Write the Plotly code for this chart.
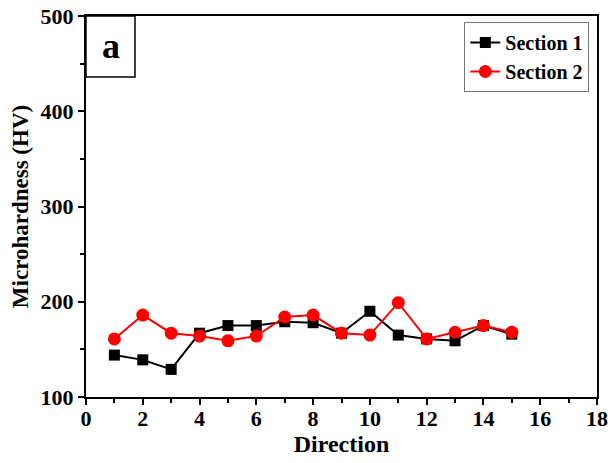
import plotly.graph_objects as go

direction = list(range(1, 16))
section1 = [144, 139, 129, 167, 175, 175, 179, 178, 167, 190, 165, 161, 159, 175, 166]
section2 = [161, 186, 167, 164, 159, 164, 184, 186, 167, 165, 199, 161, 168, 175, 168]

font_family = "Liberation Serif"

fig = go.Figure()
fig.add_trace(go.Scatter(
    x=direction, y=section1, mode="lines+markers", name="<b>Section 1</b>",
    line=dict(color="black", width=2),
    marker=dict(symbol="square", size=11, color="black"),
))
fig.add_trace(go.Scatter(
    x=direction, y=section2, mode="lines+markers", name="<b>Section 2</b>",
    line=dict(color="#ff0000", width=2),
    marker=dict(symbol="circle", size=13, color="#ff0000"),
))

axis_common = dict(
    showline=True, linecolor="black", linewidth=2, mirror=True,
    ticks="outside", tickcolor="black", tickwidth=2, ticklen=6,
    showgrid=False, zeroline=False, automargin=False,
    tickfont=dict(family=font_family, size=22, color="black", weight="bold"),
)

fig.update_xaxes(
    range=[0, 18], tickmode="array", tickvals=list(range(0, 19, 2)),
    minor=dict(tickmode="array", tickvals=list(range(1, 18, 2)), ticks="outside",
               ticklen=4, tickcolor="black", tickwidth=2),
    ticklabelstandoff=-5,
    title=dict(text="<b>Direction</b>", font=dict(family=font_family, size=24, color="black"), standoff=0),
    **axis_common,
)
fig.update_yaxes(
    range=[100, 500], tickmode="array", tickvals=[100, 200, 300, 400, 500],
    minor=dict(tickmode="array", tickvals=[150, 250, 350, 450], ticks="outside",
               ticklen=4, tickcolor="black", tickwidth=2),
    title=dict(text="<b>Microhardness (HV)</b>", font=dict(family=font_family, size=23, color="black"), standoff=6),
    **axis_common,
)

fig.add_shape(type="rect", xref="paper", yref="paper",
              x0=0, x1=49/511, y0=1 - 61/381, y1=1,
              line=dict(color="black", width=1.5), fillcolor="white")
fig.add_annotation(xref="paper", yref="paper", x=24.5/511, y=1 - 30/381,
                   xanchor="center", yanchor="middle",
                   text="<b>a</b>", showarrow=False,
                   font=dict(family=font_family, size=36, color="black"))

fig.update_layout(
    width=608, height=463,
    margin=dict(l=86, r=11, t=16, b=66),
    paper_bgcolor="white", plot_bgcolor="white",
    showlegend=True,
    legend=dict(x=0.985, y=1 - 6/381, xanchor="right", yanchor="top",
                bordercolor="#777777", borderwidth=1, bgcolor="white",
                font=dict(family=font_family, size=20, color="black"),
                itemwidth=30, tracegroupgap=0),
)

fig.write_html("out.html")
